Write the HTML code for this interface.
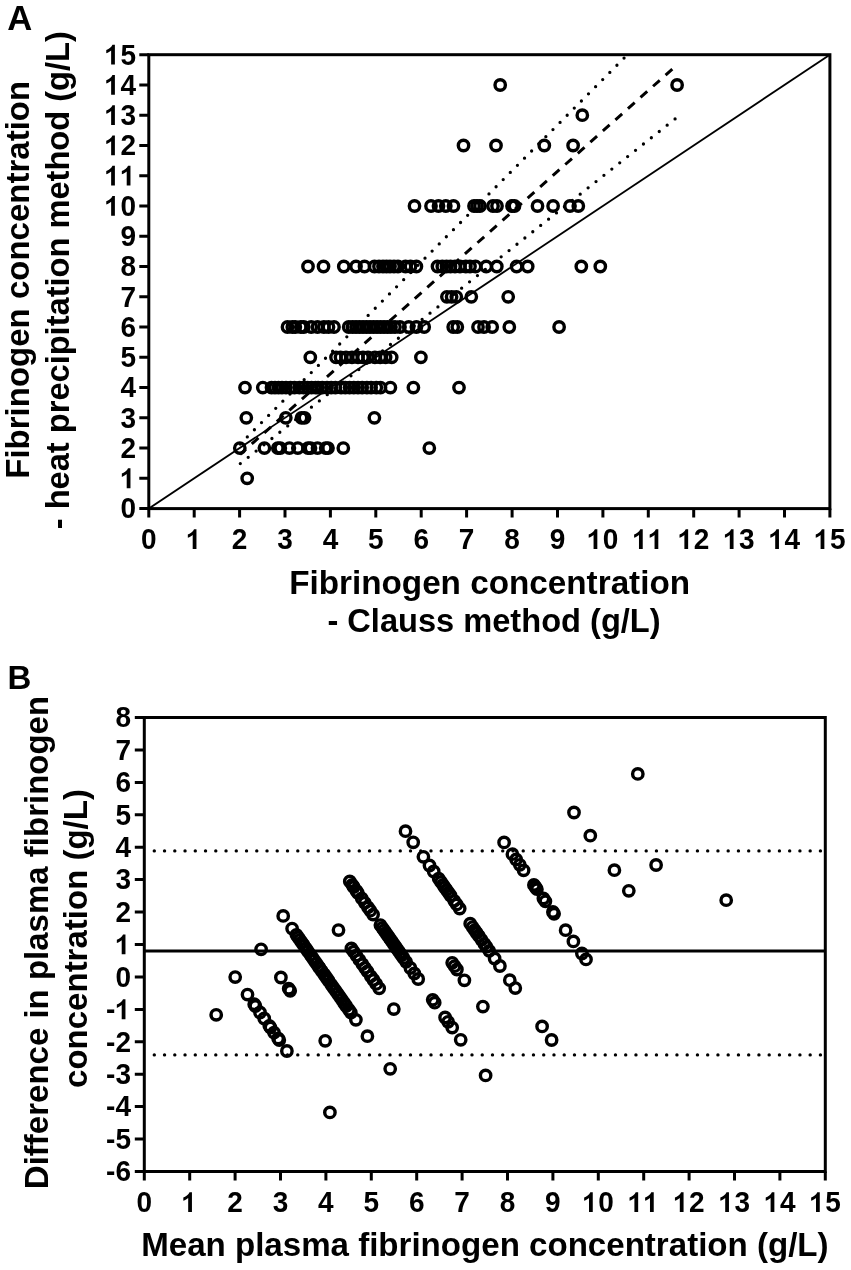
<!DOCTYPE html>
<html><head><meta charset="utf-8"><title>Fibrinogen</title>
<style>
html,body{margin:0;padding:0;background:#fff;}
body{width:851px;height:1270px;overflow:hidden;}
svg{display:block;filter:grayscale(1);}
text{font-family:"Liberation Sans",sans-serif;font-weight:bold;fill:#000;}
</style></head><body>
<svg width="851" height="1270" viewBox="0 0 851 1270">
<rect width="851" height="1270" fill="#fff"/>
<defs><path id="one" d="M734 0L459 0L459 997C368 915 254 851 103 797L103 1036C183 1061 270 1110 364 1180C458 1251 522 1327 556 1409L734 1409Z"/></defs>
<text transform="translate(7.3,29.9) scale(1.05,1.08)" font-size="33">A</text>
<g stroke="#000" stroke-width="3" fill="none"><rect x="148.8" y="54.7" width="681.1" height="453.9"/><path d="M139.3 508.6H148.8M148.8 508.6V517.6M139.3 478.3H148.8M194.2 508.6V517.6M139.3 448.1H148.8M239.6 508.6V517.6M139.3 417.8H148.8M285.0 508.6V517.6M139.3 387.6H148.8M330.4 508.6V517.6M139.3 357.3H148.8M375.8 508.6V517.6M139.3 327.0H148.8M421.2 508.6V517.6M139.3 296.8H148.8M466.6 508.6V517.6M139.3 266.5H148.8M512.1 508.6V517.6M139.3 236.3H148.8M557.5 508.6V517.6M139.3 206.0H148.8M602.9 508.6V517.6M139.3 175.7H148.8M648.3 508.6V517.6M139.3 145.5H148.8M693.7 508.6V517.6M139.3 115.2H148.8M739.1 508.6V517.6M139.3 85.0H148.8M784.5 508.6V517.6M139.3 54.7H148.8M829.9 508.6V517.6"/></g>
<g transform="translate(120.43,518.40) scale(0.013672,-0.014082)"><text x="0.00" transform="scale(73.142857,-73.142857)" font-size="28">0</text></g><g transform="translate(120.43,488.14) scale(0.013672,-0.014082)"><use href="#one" x="0.00"/></g><g transform="translate(120.43,457.88) scale(0.013672,-0.014082)"><text x="0.00" transform="scale(73.142857,-73.142857)" font-size="28">2</text></g><g transform="translate(120.43,427.62) scale(0.013672,-0.014082)"><text x="0.00" transform="scale(73.142857,-73.142857)" font-size="28">3</text></g><g transform="translate(120.43,397.36) scale(0.013672,-0.014082)"><text x="0.00" transform="scale(73.142857,-73.142857)" font-size="28">4</text></g><g transform="translate(120.43,367.10) scale(0.013672,-0.014082)"><text x="0.00" transform="scale(73.142857,-73.142857)" font-size="28">5</text></g><g transform="translate(120.43,336.84) scale(0.013672,-0.014082)"><text x="0.00" transform="scale(73.142857,-73.142857)" font-size="28">6</text></g><g transform="translate(120.43,306.58) scale(0.013672,-0.014082)"><text x="0.00" transform="scale(73.142857,-73.142857)" font-size="28">7</text></g><g transform="translate(120.43,276.32) scale(0.013672,-0.014082)"><text x="0.00" transform="scale(73.142857,-73.142857)" font-size="28">8</text></g><g transform="translate(120.43,246.06) scale(0.013672,-0.014082)"><text x="0.00" transform="scale(73.142857,-73.142857)" font-size="28">9</text></g><g transform="translate(104.86,215.80) scale(0.013672,-0.014082)"><use href="#one" x="0.00"/><text x="15.57" transform="scale(73.142857,-73.142857)" font-size="28">0</text></g><g transform="translate(104.86,185.54) scale(0.013672,-0.014082)"><use href="#one" x="0.00"/><use href="#one" x="1139.00"/></g><g transform="translate(104.86,155.28) scale(0.013672,-0.014082)"><use href="#one" x="0.00"/><text x="15.57" transform="scale(73.142857,-73.142857)" font-size="28">2</text></g><g transform="translate(104.86,125.02) scale(0.013672,-0.014082)"><use href="#one" x="0.00"/><text x="15.57" transform="scale(73.142857,-73.142857)" font-size="28">3</text></g><g transform="translate(104.86,94.76) scale(0.013672,-0.014082)"><use href="#one" x="0.00"/><text x="15.57" transform="scale(73.142857,-73.142857)" font-size="28">4</text></g><g transform="translate(104.86,64.50) scale(0.013672,-0.014082)"><use href="#one" x="0.00"/><text x="15.57" transform="scale(73.142857,-73.142857)" font-size="28">5</text></g><g transform="translate(141.01,549.00) scale(0.013672,-0.014082)"><text x="0.00" transform="scale(73.142857,-73.142857)" font-size="28">0</text></g><g transform="translate(186.42,549.00) scale(0.013672,-0.014082)"><use href="#one" x="0.00"/></g><g transform="translate(231.83,549.00) scale(0.013672,-0.014082)"><text x="0.00" transform="scale(73.142857,-73.142857)" font-size="28">2</text></g><g transform="translate(277.23,549.00) scale(0.013672,-0.014082)"><text x="0.00" transform="scale(73.142857,-73.142857)" font-size="28">3</text></g><g transform="translate(322.64,549.00) scale(0.013672,-0.014082)"><text x="0.00" transform="scale(73.142857,-73.142857)" font-size="28">4</text></g><g transform="translate(368.05,549.00) scale(0.013672,-0.014082)"><text x="0.00" transform="scale(73.142857,-73.142857)" font-size="28">5</text></g><g transform="translate(413.45,549.00) scale(0.013672,-0.014082)"><text x="0.00" transform="scale(73.142857,-73.142857)" font-size="28">6</text></g><g transform="translate(458.86,549.00) scale(0.013672,-0.014082)"><text x="0.00" transform="scale(73.142857,-73.142857)" font-size="28">7</text></g><g transform="translate(504.27,549.00) scale(0.013672,-0.014082)"><text x="0.00" transform="scale(73.142857,-73.142857)" font-size="28">8</text></g><g transform="translate(549.67,549.00) scale(0.013672,-0.014082)"><text x="0.00" transform="scale(73.142857,-73.142857)" font-size="28">9</text></g><g transform="translate(587.29,549.00) scale(0.013672,-0.014082)"><use href="#one" x="0.00"/><text x="15.57" transform="scale(73.142857,-73.142857)" font-size="28">0</text></g><g transform="translate(632.70,549.00) scale(0.013672,-0.014082)"><use href="#one" x="0.00"/><use href="#one" x="1139.00"/></g><g transform="translate(678.11,549.00) scale(0.013672,-0.014082)"><use href="#one" x="0.00"/><text x="15.57" transform="scale(73.142857,-73.142857)" font-size="28">2</text></g><g transform="translate(723.51,549.00) scale(0.013672,-0.014082)"><use href="#one" x="0.00"/><text x="15.57" transform="scale(73.142857,-73.142857)" font-size="28">3</text></g><g transform="translate(768.92,549.00) scale(0.013672,-0.014082)"><use href="#one" x="0.00"/><text x="15.57" transform="scale(73.142857,-73.142857)" font-size="28">4</text></g><g transform="translate(814.33,549.00) scale(0.013672,-0.014082)"><use href="#one" x="0.00"/><text x="15.57" transform="scale(73.142857,-73.142857)" font-size="28">5</text></g>
<text transform="translate(489.6,594.3) scale(1.008,1.000)" font-size="33" text-anchor="middle">Fibrinogen concentration</text>
<text transform="translate(494.0,631.7) scale(0.988,1.000)" font-size="33" text-anchor="middle">- Clauss method (g/L)</text>
<text transform="translate(29.4,279.8) rotate(-90) scale(1.000,1.000)" font-size="33" text-anchor="middle">Fibrinogen concentration</text>
<text transform="translate(68.8,280.2) rotate(-90) scale(0.988,1.000)" font-size="33" text-anchor="middle">- heat precipitation method (g/L)</text>
<clipPath id="ca"><rect x="148.8" y="54.7" width="681.1" height="453.9"/></clipPath>
<g clip-path="url(#ca)" fill="none" stroke="#000"><line x1="148.8" y1="508.6" x2="829.9" y2="54.7" stroke-width="1.8"/><line x1="240" y1="454.4" x2="677" y2="64.9" stroke-width="3" stroke-dasharray="9 7.8" stroke-dashoffset="1.1"/><line x1="240.2" y1="444.04" x2="631.14" y2="50.95" stroke-width="3.3" stroke-linecap="round" stroke-dasharray="0 10.080"/><line x1="240.3" y1="463.57" x2="675.58" y2="118.54" stroke-width="3.3" stroke-linecap="round" stroke-dasharray="0 10.087"/></g>
<g fill="none" stroke="#000" stroke-width="3.4"><circle cx="247.2" cy="478.3" r="5.2"/><circle cx="239.8" cy="448.1" r="5.2"/><circle cx="264.4" cy="448.1" r="5.2"/><circle cx="277.8" cy="448.1" r="5.2"/><circle cx="280.3" cy="448.1" r="5.2"/><circle cx="289.4" cy="448.1" r="5.2"/><circle cx="297.8" cy="448.1" r="5.2"/><circle cx="308.0" cy="448.1" r="5.2"/><circle cx="310.5" cy="448.1" r="5.2"/><circle cx="317.5" cy="448.1" r="5.2"/><circle cx="325.7" cy="448.1" r="5.2"/><circle cx="328.0" cy="448.1" r="5.2"/><circle cx="343.3" cy="448.1" r="5.2"/><circle cx="429.3" cy="448.1" r="5.2"/><circle cx="246.3" cy="417.8" r="5.2"/><circle cx="285.8" cy="417.8" r="5.2"/><circle cx="301.5" cy="417.8" r="5.2"/><circle cx="304.5" cy="417.8" r="5.2"/><circle cx="374.4" cy="417.8" r="5.2"/><circle cx="245.0" cy="387.6" r="5.2"/><circle cx="262.8" cy="387.6" r="5.2"/><circle cx="271.5" cy="387.6" r="5.2"/><circle cx="275.0" cy="387.6" r="5.2"/><circle cx="278.5" cy="387.6" r="5.2"/><circle cx="282.0" cy="387.6" r="5.2"/><circle cx="286.0" cy="387.6" r="5.2"/><circle cx="290.5" cy="387.6" r="5.2"/><circle cx="294.5" cy="387.6" r="5.2"/><circle cx="299.4" cy="387.6" r="5.2"/><circle cx="303.5" cy="387.6" r="5.2"/><circle cx="307.5" cy="387.6" r="5.2"/><circle cx="311.5" cy="387.6" r="5.2"/><circle cx="315.5" cy="387.6" r="5.2"/><circle cx="318.1" cy="387.6" r="5.2"/><circle cx="322.3" cy="387.6" r="5.2"/><circle cx="327.0" cy="387.6" r="5.2"/><circle cx="331.2" cy="387.6" r="5.2"/><circle cx="335.4" cy="387.6" r="5.2"/><circle cx="341.1" cy="387.6" r="5.2"/><circle cx="345.3" cy="387.6" r="5.2"/><circle cx="349.6" cy="387.6" r="5.2"/><circle cx="353.8" cy="387.6" r="5.2"/><circle cx="358.0" cy="387.6" r="5.2"/><circle cx="362.2" cy="387.6" r="5.2"/><circle cx="366.9" cy="387.6" r="5.2"/><circle cx="371.1" cy="387.6" r="5.2"/><circle cx="376.3" cy="387.6" r="5.2"/><circle cx="380.5" cy="387.6" r="5.2"/><circle cx="390.4" cy="387.6" r="5.2"/><circle cx="413.4" cy="387.6" r="5.2"/><circle cx="459.0" cy="387.6" r="5.2"/><circle cx="310.3" cy="357.3" r="5.2"/><circle cx="336.0" cy="357.3" r="5.2"/><circle cx="340.5" cy="357.3" r="5.2"/><circle cx="346.0" cy="357.3" r="5.2"/><circle cx="352.0" cy="357.3" r="5.2"/><circle cx="358.0" cy="357.3" r="5.2"/><circle cx="363.0" cy="357.3" r="5.2"/><circle cx="368.0" cy="357.3" r="5.2"/><circle cx="374.9" cy="357.3" r="5.2"/><circle cx="380.2" cy="357.3" r="5.2"/><circle cx="385.6" cy="357.3" r="5.2"/><circle cx="391.7" cy="357.3" r="5.2"/><circle cx="420.9" cy="357.3" r="5.2"/><circle cx="287.5" cy="327.0" r="5.2"/><circle cx="292.3" cy="327.0" r="5.2"/><circle cx="295.3" cy="327.0" r="5.2"/><circle cx="300.8" cy="327.0" r="5.2"/><circle cx="303.8" cy="327.0" r="5.2"/><circle cx="311.2" cy="327.0" r="5.2"/><circle cx="317.5" cy="327.0" r="5.2"/><circle cx="323.9" cy="327.0" r="5.2"/><circle cx="328.5" cy="327.0" r="5.2"/><circle cx="334.0" cy="327.0" r="5.2"/><circle cx="348.7" cy="327.0" r="5.2"/><circle cx="352.5" cy="327.0" r="5.2"/><circle cx="356.0" cy="327.0" r="5.2"/><circle cx="359.5" cy="327.0" r="5.2"/><circle cx="363.0" cy="327.0" r="5.2"/><circle cx="366.5" cy="327.0" r="5.2"/><circle cx="370.0" cy="327.0" r="5.2"/><circle cx="373.5" cy="327.0" r="5.2"/><circle cx="377.0" cy="327.0" r="5.2"/><circle cx="380.5" cy="327.0" r="5.2"/><circle cx="384.0" cy="327.0" r="5.2"/><circle cx="387.5" cy="327.0" r="5.2"/><circle cx="391.0" cy="327.0" r="5.2"/><circle cx="395.0" cy="327.0" r="5.2"/><circle cx="400.0" cy="327.0" r="5.2"/><circle cx="408.7" cy="327.0" r="5.2"/><circle cx="416.4" cy="327.0" r="5.2"/><circle cx="424.2" cy="327.0" r="5.2"/><circle cx="453.2" cy="327.0" r="5.2"/><circle cx="457.3" cy="327.0" r="5.2"/><circle cx="478.0" cy="327.0" r="5.2"/><circle cx="484.0" cy="327.0" r="5.2"/><circle cx="492.2" cy="327.0" r="5.2"/><circle cx="509.3" cy="327.0" r="5.2"/><circle cx="559.1" cy="327.0" r="5.2"/><circle cx="446.9" cy="296.8" r="5.2"/><circle cx="451.6" cy="296.8" r="5.2"/><circle cx="456.3" cy="296.8" r="5.2"/><circle cx="471.3" cy="296.8" r="5.2"/><circle cx="508.2" cy="296.8" r="5.2"/><circle cx="308.0" cy="266.5" r="5.2"/><circle cx="323.5" cy="266.5" r="5.2"/><circle cx="343.8" cy="266.5" r="5.2"/><circle cx="356.0" cy="266.5" r="5.2"/><circle cx="364.5" cy="266.5" r="5.2"/><circle cx="374.5" cy="266.5" r="5.2"/><circle cx="379.0" cy="266.5" r="5.2"/><circle cx="383.0" cy="266.5" r="5.2"/><circle cx="386.5" cy="266.5" r="5.2"/><circle cx="390.0" cy="266.5" r="5.2"/><circle cx="394.0" cy="266.5" r="5.2"/><circle cx="398.0" cy="266.5" r="5.2"/><circle cx="405.5" cy="266.5" r="5.2"/><circle cx="410.5" cy="266.5" r="5.2"/><circle cx="416.4" cy="266.5" r="5.2"/><circle cx="437.5" cy="266.5" r="5.2"/><circle cx="442.3" cy="266.5" r="5.2"/><circle cx="446.5" cy="266.5" r="5.2"/><circle cx="450.5" cy="266.5" r="5.2"/><circle cx="455.0" cy="266.5" r="5.2"/><circle cx="460.0" cy="266.5" r="5.2"/><circle cx="465.8" cy="266.5" r="5.2"/><circle cx="470.0" cy="266.5" r="5.2"/><circle cx="475.5" cy="266.5" r="5.2"/><circle cx="486.2" cy="266.5" r="5.2"/><circle cx="496.8" cy="266.5" r="5.2"/><circle cx="516.6" cy="266.5" r="5.2"/><circle cx="527.7" cy="266.5" r="5.2"/><circle cx="581.3" cy="266.5" r="5.2"/><circle cx="600.3" cy="266.5" r="5.2"/><circle cx="414.5" cy="206.0" r="5.2"/><circle cx="431.0" cy="206.0" r="5.2"/><circle cx="438.5" cy="206.0" r="5.2"/><circle cx="445.8" cy="206.0" r="5.2"/><circle cx="453.5" cy="206.0" r="5.2"/><circle cx="474.0" cy="206.0" r="5.2"/><circle cx="477.0" cy="206.0" r="5.2"/><circle cx="480.0" cy="206.0" r="5.2"/><circle cx="493.0" cy="206.0" r="5.2"/><circle cx="497.0" cy="206.0" r="5.2"/><circle cx="512.0" cy="206.0" r="5.2"/><circle cx="514.5" cy="206.0" r="5.2"/><circle cx="537.5" cy="206.0" r="5.2"/><circle cx="553.1" cy="206.0" r="5.2"/><circle cx="570.0" cy="206.0" r="5.2"/><circle cx="578.3" cy="206.0" r="5.2"/><circle cx="463.5" cy="145.5" r="5.2"/><circle cx="496.0" cy="145.5" r="5.2"/><circle cx="544.3" cy="145.5" r="5.2"/><circle cx="573.1" cy="145.5" r="5.2"/><circle cx="582.3" cy="115.2" r="5.2"/><circle cx="500.2" cy="85.0" r="5.2"/><circle cx="677.1" cy="85.0" r="5.2"/></g>
<text x="7.5" y="688.8" font-size="33">B</text>
<g stroke="#000" stroke-width="3" fill="none"><rect x="144.3" y="717.5" width="681.0" height="454.0"/><path d="M134.8 1171.5H144.3M134.8 1139.1H144.3M134.8 1106.6H144.3M134.8 1074.2H144.3M134.8 1041.8H144.3M134.8 1009.4H144.3M134.8 976.9H144.3M134.8 944.5H144.3M134.8 912.1H144.3M134.8 879.6H144.3M134.8 847.2H144.3M134.8 814.8H144.3M134.8 782.4H144.3M134.8 749.9H144.3M134.8 717.5H144.3M144.3 1171.5V1180.5M189.7 1171.5V1180.5M235.1 1171.5V1180.5M280.5 1171.5V1180.5M325.9 1171.5V1180.5M371.3 1171.5V1180.5M416.7 1171.5V1180.5M462.1 1171.5V1180.5M507.5 1171.5V1180.5M552.9 1171.5V1180.5M598.3 1171.5V1180.5M643.7 1171.5V1180.5M689.1 1171.5V1180.5M734.5 1171.5V1180.5M779.9 1171.5V1180.5M825.3 1171.5V1180.5"/></g>
<g transform="translate(106.10,1181.30) scale(0.013672,-0.014082)"><text x="0.00" transform="scale(73.142857,-73.142857)" font-size="28">-</text><text x="9.32" transform="scale(73.142857,-73.142857)" font-size="28">6</text></g><g transform="translate(106.10,1148.87) scale(0.013672,-0.014082)"><text x="0.00" transform="scale(73.142857,-73.142857)" font-size="28">-</text><text x="9.32" transform="scale(73.142857,-73.142857)" font-size="28">5</text></g><g transform="translate(106.10,1116.44) scale(0.013672,-0.014082)"><text x="0.00" transform="scale(73.142857,-73.142857)" font-size="28">-</text><text x="9.32" transform="scale(73.142857,-73.142857)" font-size="28">4</text></g><g transform="translate(106.10,1084.01) scale(0.013672,-0.014082)"><text x="0.00" transform="scale(73.142857,-73.142857)" font-size="28">-</text><text x="9.32" transform="scale(73.142857,-73.142857)" font-size="28">3</text></g><g transform="translate(106.10,1051.59) scale(0.013672,-0.014082)"><text x="0.00" transform="scale(73.142857,-73.142857)" font-size="28">-</text><text x="9.32" transform="scale(73.142857,-73.142857)" font-size="28">2</text></g><g transform="translate(106.10,1019.16) scale(0.013672,-0.014082)"><text x="0.00" transform="scale(73.142857,-73.142857)" font-size="28">-</text><use href="#one" x="682.00"/></g><g transform="translate(115.43,986.73) scale(0.013672,-0.014082)"><text x="0.00" transform="scale(73.142857,-73.142857)" font-size="28">0</text></g><g transform="translate(115.43,954.30) scale(0.013672,-0.014082)"><use href="#one" x="0.00"/></g><g transform="translate(115.43,921.87) scale(0.013672,-0.014082)"><text x="0.00" transform="scale(73.142857,-73.142857)" font-size="28">2</text></g><g transform="translate(115.43,889.44) scale(0.013672,-0.014082)"><text x="0.00" transform="scale(73.142857,-73.142857)" font-size="28">3</text></g><g transform="translate(115.43,857.01) scale(0.013672,-0.014082)"><text x="0.00" transform="scale(73.142857,-73.142857)" font-size="28">4</text></g><g transform="translate(115.43,824.59) scale(0.013672,-0.014082)"><text x="0.00" transform="scale(73.142857,-73.142857)" font-size="28">5</text></g><g transform="translate(115.43,792.16) scale(0.013672,-0.014082)"><text x="0.00" transform="scale(73.142857,-73.142857)" font-size="28">6</text></g><g transform="translate(115.43,759.73) scale(0.013672,-0.014082)"><text x="0.00" transform="scale(73.142857,-73.142857)" font-size="28">7</text></g><g transform="translate(115.43,727.30) scale(0.013672,-0.014082)"><text x="0.00" transform="scale(73.142857,-73.142857)" font-size="28">8</text></g><g transform="translate(136.51,1212.00) scale(0.013672,-0.014082)"><text x="0.00" transform="scale(73.142857,-73.142857)" font-size="28">0</text></g><g transform="translate(181.91,1212.00) scale(0.013672,-0.014082)"><use href="#one" x="0.00"/></g><g transform="translate(227.31,1212.00) scale(0.013672,-0.014082)"><text x="0.00" transform="scale(73.142857,-73.142857)" font-size="28">2</text></g><g transform="translate(272.71,1212.00) scale(0.013672,-0.014082)"><text x="0.00" transform="scale(73.142857,-73.142857)" font-size="28">3</text></g><g transform="translate(318.11,1212.00) scale(0.013672,-0.014082)"><text x="0.00" transform="scale(73.142857,-73.142857)" font-size="28">4</text></g><g transform="translate(363.51,1212.00) scale(0.013672,-0.014082)"><text x="0.00" transform="scale(73.142857,-73.142857)" font-size="28">5</text></g><g transform="translate(408.91,1212.00) scale(0.013672,-0.014082)"><text x="0.00" transform="scale(73.142857,-73.142857)" font-size="28">6</text></g><g transform="translate(454.31,1212.00) scale(0.013672,-0.014082)"><text x="0.00" transform="scale(73.142857,-73.142857)" font-size="28">7</text></g><g transform="translate(499.71,1212.00) scale(0.013672,-0.014082)"><text x="0.00" transform="scale(73.142857,-73.142857)" font-size="28">8</text></g><g transform="translate(545.11,1212.00) scale(0.013672,-0.014082)"><text x="0.00" transform="scale(73.142857,-73.142857)" font-size="28">9</text></g><g transform="translate(582.73,1212.00) scale(0.013672,-0.014082)"><use href="#one" x="0.00"/><text x="15.57" transform="scale(73.142857,-73.142857)" font-size="28">0</text></g><g transform="translate(628.13,1212.00) scale(0.013672,-0.014082)"><use href="#one" x="0.00"/><use href="#one" x="1139.00"/></g><g transform="translate(673.53,1212.00) scale(0.013672,-0.014082)"><use href="#one" x="0.00"/><text x="15.57" transform="scale(73.142857,-73.142857)" font-size="28">2</text></g><g transform="translate(718.93,1212.00) scale(0.013672,-0.014082)"><use href="#one" x="0.00"/><text x="15.57" transform="scale(73.142857,-73.142857)" font-size="28">3</text></g><g transform="translate(764.33,1212.00) scale(0.013672,-0.014082)"><use href="#one" x="0.00"/><text x="15.57" transform="scale(73.142857,-73.142857)" font-size="28">4</text></g><g transform="translate(809.73,1212.00) scale(0.013672,-0.014082)"><use href="#one" x="0.00"/><text x="15.57" transform="scale(73.142857,-73.142857)" font-size="28">5</text></g>
<text transform="translate(484.9,1256.0) scale(1.003,1.000)" font-size="33" text-anchor="middle">Mean plasma fibrinogen concentration (g/L)</text>
<text transform="translate(48.0,942.5) rotate(-90) scale(1.000,1.000)" font-size="33" text-anchor="middle">Difference in plasma fibrinogen</text>
<text transform="translate(87.4,938.5) rotate(-90) scale(1.000,1.000)" font-size="33" text-anchor="middle">concentration (g/L)</text>
<g fill="none" stroke="#000"><line x1="144.3" y1="951.1" x2="825.3" y2="951.1" stroke-width="3"/><line x1="154.3" y1="850.9" x2="822" y2="850.9" stroke-width="3.4" stroke-linecap="round" stroke-dasharray="0 10.248"/><line x1="154.3" y1="1054.9" x2="822" y2="1054.9" stroke-width="3.4" stroke-linecap="round" stroke-dasharray="0 10.248"/></g>
<g fill="none" stroke="#000" stroke-width="3.4"><circle cx="216.2" cy="1014.8" r="5.2"/><circle cx="235.2" cy="977.1" r="5.2"/><circle cx="247.5" cy="994.6" r="5.2"/><circle cx="254.2" cy="1004.2" r="5.2"/><circle cx="255.4" cy="1006.0" r="5.2"/><circle cx="260.0" cy="1012.5" r="5.2"/><circle cx="264.2" cy="1018.5" r="5.2"/><circle cx="269.3" cy="1025.8" r="5.2"/><circle cx="270.5" cy="1027.6" r="5.2"/><circle cx="274.0" cy="1032.6" r="5.2"/><circle cx="278.1" cy="1038.4" r="5.2"/><circle cx="279.3" cy="1040.1" r="5.2"/><circle cx="286.9" cy="1051.0" r="5.2"/><circle cx="329.9" cy="1112.4" r="5.2"/><circle cx="261.1" cy="949.3" r="5.2"/><circle cx="280.9" cy="977.5" r="5.2"/><circle cx="288.7" cy="988.7" r="5.2"/><circle cx="290.2" cy="990.8" r="5.2"/><circle cx="325.2" cy="1040.8" r="5.2"/><circle cx="283.2" cy="915.9" r="5.2"/><circle cx="292.1" cy="928.6" r="5.2"/><circle cx="296.4" cy="934.8" r="5.2"/><circle cx="298.2" cy="937.3" r="5.2"/><circle cx="299.9" cy="939.8" r="5.2"/><circle cx="301.7" cy="942.3" r="5.2"/><circle cx="303.7" cy="945.2" r="5.2"/><circle cx="305.9" cy="948.4" r="5.2"/><circle cx="307.9" cy="951.3" r="5.2"/><circle cx="310.4" cy="954.8" r="5.2"/><circle cx="312.4" cy="957.7" r="5.2"/><circle cx="314.4" cy="960.6" r="5.2"/><circle cx="316.4" cy="963.4" r="5.2"/><circle cx="318.4" cy="966.3" r="5.2"/><circle cx="319.7" cy="968.1" r="5.2"/><circle cx="321.8" cy="971.1" r="5.2"/><circle cx="324.2" cy="974.5" r="5.2"/><circle cx="326.3" cy="977.5" r="5.2"/><circle cx="328.4" cy="980.5" r="5.2"/><circle cx="331.2" cy="984.6" r="5.2"/><circle cx="333.3" cy="987.6" r="5.2"/><circle cx="335.5" cy="990.6" r="5.2"/><circle cx="337.6" cy="993.6" r="5.2"/><circle cx="339.7" cy="996.6" r="5.2"/><circle cx="341.8" cy="999.6" r="5.2"/><circle cx="344.1" cy="1003.0" r="5.2"/><circle cx="346.2" cy="1006.0" r="5.2"/><circle cx="348.8" cy="1009.7" r="5.2"/><circle cx="350.9" cy="1012.7" r="5.2"/><circle cx="355.9" cy="1019.8" r="5.2"/><circle cx="367.4" cy="1036.2" r="5.2"/><circle cx="390.2" cy="1068.8" r="5.2"/><circle cx="338.5" cy="930.1" r="5.2"/><circle cx="351.4" cy="948.5" r="5.2"/><circle cx="353.6" cy="951.7" r="5.2"/><circle cx="356.4" cy="955.6" r="5.2"/><circle cx="359.4" cy="959.9" r="5.2"/><circle cx="362.4" cy="964.2" r="5.2"/><circle cx="364.9" cy="967.8" r="5.2"/><circle cx="367.4" cy="971.3" r="5.2"/><circle cx="370.8" cy="976.3" r="5.2"/><circle cx="373.5" cy="980.0" r="5.2"/><circle cx="376.2" cy="983.9" r="5.2"/><circle cx="379.2" cy="988.3" r="5.2"/><circle cx="393.8" cy="1009.1" r="5.2"/><circle cx="349.8" cy="881.4" r="5.2"/><circle cx="352.2" cy="884.8" r="5.2"/><circle cx="353.7" cy="887.0" r="5.2"/><circle cx="356.5" cy="890.9" r="5.2"/><circle cx="358.0" cy="893.1" r="5.2"/><circle cx="361.7" cy="898.3" r="5.2"/><circle cx="364.8" cy="902.8" r="5.2"/><circle cx="368.0" cy="907.4" r="5.2"/><circle cx="370.3" cy="910.7" r="5.2"/><circle cx="373.1" cy="914.6" r="5.2"/><circle cx="380.4" cy="925.1" r="5.2"/><circle cx="382.3" cy="927.8" r="5.2"/><circle cx="384.1" cy="930.3" r="5.2"/><circle cx="385.8" cy="932.8" r="5.2"/><circle cx="387.6" cy="935.3" r="5.2"/><circle cx="389.3" cy="937.8" r="5.2"/><circle cx="391.1" cy="940.3" r="5.2"/><circle cx="392.8" cy="942.8" r="5.2"/><circle cx="394.6" cy="945.3" r="5.2"/><circle cx="396.3" cy="947.8" r="5.2"/><circle cx="398.1" cy="950.3" r="5.2"/><circle cx="399.8" cy="952.8" r="5.2"/><circle cx="401.6" cy="955.3" r="5.2"/><circle cx="403.6" cy="958.2" r="5.2"/><circle cx="406.1" cy="961.8" r="5.2"/><circle cx="410.4" cy="968.0" r="5.2"/><circle cx="414.3" cy="973.5" r="5.2"/><circle cx="418.2" cy="979.0" r="5.2"/><circle cx="432.7" cy="999.8" r="5.2"/><circle cx="434.7" cy="1002.7" r="5.2"/><circle cx="445.1" cy="1017.5" r="5.2"/><circle cx="448.1" cy="1021.8" r="5.2"/><circle cx="452.2" cy="1027.6" r="5.2"/><circle cx="460.7" cy="1039.8" r="5.2"/><circle cx="485.6" cy="1075.4" r="5.2"/><circle cx="452.2" cy="962.8" r="5.2"/><circle cx="454.6" cy="966.2" r="5.2"/><circle cx="456.9" cy="969.5" r="5.2"/><circle cx="464.4" cy="980.3" r="5.2"/><circle cx="482.9" cy="1006.6" r="5.2"/><circle cx="405.5" cy="831.2" r="5.2"/><circle cx="413.2" cy="842.3" r="5.2"/><circle cx="423.4" cy="856.8" r="5.2"/><circle cx="429.5" cy="865.5" r="5.2"/><circle cx="433.7" cy="871.5" r="5.2"/><circle cx="438.7" cy="878.7" r="5.2"/><circle cx="441.0" cy="881.9" r="5.2"/><circle cx="443.0" cy="884.8" r="5.2"/><circle cx="444.7" cy="887.3" r="5.2"/><circle cx="446.5" cy="889.8" r="5.2"/><circle cx="448.5" cy="892.6" r="5.2"/><circle cx="450.5" cy="895.5" r="5.2"/><circle cx="454.2" cy="900.8" r="5.2"/><circle cx="456.7" cy="904.4" r="5.2"/><circle cx="459.7" cy="908.6" r="5.2"/><circle cx="470.2" cy="923.7" r="5.2"/><circle cx="472.6" cy="927.1" r="5.2"/><circle cx="474.7" cy="930.1" r="5.2"/><circle cx="476.7" cy="933.0" r="5.2"/><circle cx="479.0" cy="936.2" r="5.2"/><circle cx="481.5" cy="939.8" r="5.2"/><circle cx="484.4" cy="943.9" r="5.2"/><circle cx="486.5" cy="946.9" r="5.2"/><circle cx="489.2" cy="950.8" r="5.2"/><circle cx="494.6" cy="958.5" r="5.2"/><circle cx="499.9" cy="966.0" r="5.2"/><circle cx="509.8" cy="980.2" r="5.2"/><circle cx="515.3" cy="988.1" r="5.2"/><circle cx="542.1" cy="1026.4" r="5.2"/><circle cx="551.6" cy="1040.0" r="5.2"/><circle cx="504.1" cy="842.4" r="5.2"/><circle cx="512.4" cy="854.2" r="5.2"/><circle cx="516.1" cy="859.5" r="5.2"/><circle cx="519.8" cy="864.8" r="5.2"/><circle cx="523.6" cy="870.3" r="5.2"/><circle cx="533.9" cy="884.9" r="5.2"/><circle cx="535.4" cy="887.0" r="5.2"/><circle cx="536.9" cy="889.2" r="5.2"/><circle cx="543.4" cy="898.5" r="5.2"/><circle cx="545.4" cy="901.3" r="5.2"/><circle cx="552.9" cy="912.0" r="5.2"/><circle cx="554.1" cy="913.8" r="5.2"/><circle cx="565.6" cy="930.2" r="5.2"/><circle cx="573.4" cy="941.4" r="5.2"/><circle cx="581.9" cy="953.5" r="5.2"/><circle cx="586.0" cy="959.4" r="5.2"/><circle cx="574.0" cy="812.5" r="5.2"/><circle cx="590.3" cy="835.7" r="5.2"/><circle cx="614.4" cy="870.2" r="5.2"/><circle cx="628.8" cy="890.8" r="5.2"/><circle cx="656.1" cy="865.0" r="5.2"/><circle cx="637.8" cy="773.9" r="5.2"/><circle cx="726.2" cy="900.2" r="5.2"/></g>
</svg>
</body></html>
